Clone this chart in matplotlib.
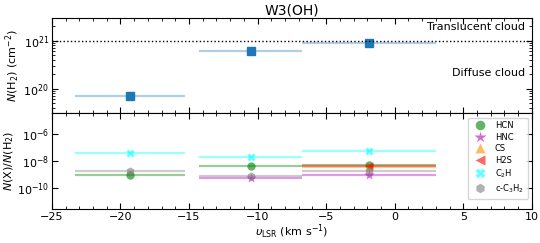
import numpy as np
import matplotlib
matplotlib.use("Agg")
import matplotlib.pyplot as plt
from matplotlib.ticker import MultipleLocator

# ---- data ----
v_center = [-19.3, -10.5, -1.9]
v_lo = [-23.3, -14.3, -6.75]
v_hi = [-15.3, -6.75, 3.0]
NH2 = [7.0e19, 6.2e20, 9.0e20]

species = ["HCN", "HNC", "CS", "H2S", "C$_2$H", "c-C$_3$H$_2$"]
markers = ["o", "*", "^", "<", "X", "h"]
colors = ["green", "m", "darkorange", "red", "cyan", "gray"]
# abundances per velocity component (None = not detected)
abund = {
    "HCN":          [1.0e-9, 4.3e-9, 5.1e-9],
    "HNC":          [None, 5.9e-10, 9.0e-10],
    "CS":           [None, None, 3.6e-9],
    "H2S":          [None, None, 4.6e-9],
    "C$_2$H":       [4.0e-8, 1.8e-8, 5.1e-8],
    "c-C$_3$H$_2$": [1.8e-9, 8.0e-10, 1.7e-9],
}

fig = plt.figure(figsize=(5.4, 2.43), dpi=100)
gs = fig.add_gridspec(2, 1, hspace=0, left=0.096, right=0.985, top=0.926, bottom=0.14)
ax1 = fig.add_subplot(gs[0])
ax2 = fig.add_subplot(gs[1], sharex=ax1)

xerr = [np.array(v_center) - np.array(v_lo), np.array(v_hi) - np.array(v_center)]
ax1.errorbar(v_center, NH2, xerr=xerr, fmt="none", ecolor="C0", elinewidth=1.6, alpha=0.35, capsize=0)
ax1.plot(v_center, NH2, "s", color="C0", ms=5.5)
ax1.axhline(1e21, color="k", ls=":", lw=1)
ax1.set_yscale("log")
ax1.set_ylim(3e19, 3e21)
ax1.set_ylabel("$N$(H$_2$) (cm$^{-2}$)", fontsize=8, labelpad=1)
ax1.text(0.985, 0.905, "Translucent cloud", transform=ax1.transAxes, ha="right", va="center", fontsize=8)
ax1.text(0.985, 0.42, "Diffuse cloud", transform=ax1.transAxes, ha="right", va="center", fontsize=8)
ax1.set_title("W3(OH)", fontsize=10, pad=2)
plt.setp(ax1.get_xticklabels(), visible=False)

for sp, mk, c in zip(species, markers, colors):
    vals = abund[sp]
    xs, ys, lo, hi = [], [], [], []
    for i, v in enumerate(vals):
        if v is None:
            continue
        xs.append(v_center[i]); ys.append(v)
        lo.append(v_center[i] - v_lo[i]); hi.append(v_hi[i] - v_center[i])
    ax2.errorbar(xs, ys, xerr=[lo, hi], fmt="none", ecolor=c, elinewidth=1.6, alpha=0.4, capsize=0)
    ms = 7.5 if mk == "*" else 6
    ax2.plot(xs, ys, mk, color=c, ms=ms, alpha=0.6, mec="none", label=sp)

ax2.set_yscale("log")
ax2.set_ylim(3e-12, 3e-5)
ax2.set_yticks([1e-10, 1e-8, 1e-6])
ax2.set_ylabel("$N$(X)/$N$(H$_2$)", fontsize=8, labelpad=1)
ax2.set_xlabel(r"$\upsilon_{\rm LSR}$ (km s$^{-1}$)", fontsize=8, labelpad=1)
ax2.set_xlim(-25, 10)
ax2.xaxis.set_major_locator(MultipleLocator(5))
ax2.xaxis.set_minor_locator(MultipleLocator(1))
leg = ax2.legend(loc="upper right", fontsize=6, frameon=True, handletextpad=0.8, labelspacing=0.3,
                 borderpad=0.45, fancybox=True, markerscale=1.15)

for ax in (ax1, ax2):
    ax.tick_params(which="both", direction="in", top=True, right=True, labelsize=8, pad=2)
    ax.tick_params(which="major", length=4)
    ax.tick_params(which="minor", length=2)

fig.savefig("out.png", dpi=100)
